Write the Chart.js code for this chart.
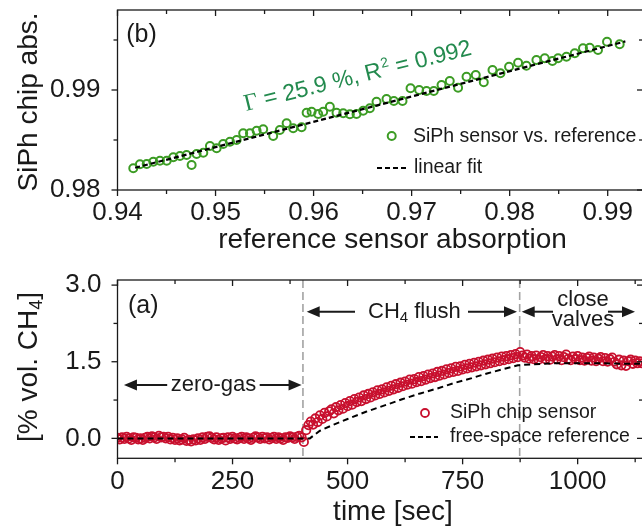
<!DOCTYPE html>
<html>
<head>
<meta charset="utf-8">
<script src="https://cdn.jsdelivr.net/npm/chart.js@4.4.1/dist/chart.umd.min.js"></script>
<style>
  html, body { margin: 0; padding: 0; background: #fff; overflow: hidden; }
  #wrap { position: relative; width: 642px; height: 530px; overflow: hidden; }
  canvas { position: absolute; left: 0; }
  #fitChart { top: 0; }
  #timeChart { top: 260px; }
</style>
</head>
<body>
<div id="wrap">
  <canvas id="fitChart" width="700" height="260"></canvas>
  <canvas id="timeChart" width="700" height="270"></canvas>
</div>
<script>
// ---- (b) chip absorption vs. reference absorption ----
const refAbs = [
  0.94161, 0.94229, 0.94298, 0.94365, 0.94433, 0.94502, 0.94569, 0.94637, 0.94705, 0.94756,
  0.94807, 0.94875, 0.94943, 0.95011, 0.95078, 0.95147, 0.95215, 0.95282, 0.95351, 0.95419,
  0.95486, 0.95588, 0.95656, 0.95725, 0.95792, 0.95878, 0.95929, 0.95980, 0.96047, 0.96098,
  0.96166, 0.96234, 0.96302, 0.96370, 0.96438, 0.96506, 0.96574, 0.96642, 0.96744, 0.96819,
  0.96907, 0.96989, 0.97077, 0.97152, 0.97226, 0.97305, 0.97389, 0.97474, 0.97560, 0.97654,
  0.97736, 0.97825, 0.97906, 0.97994, 0.98086, 0.98171, 0.98273, 0.98358, 0.98436, 0.98494,
  0.98579, 0.98664, 0.98748, 0.98817, 0.98901, 0.98993, 0.99122
];
const chipAbs = [
  0.98217, 0.98257, 0.98260, 0.98283, 0.98293, 0.98293, 0.98327, 0.98340, 0.98350, 0.98250,
  0.98360, 0.98373, 0.98440, 0.98417, 0.98460, 0.98483, 0.98500, 0.98567, 0.98567, 0.98593,
  0.98607, 0.98540, 0.98600, 0.98667, 0.98617, 0.98627, 0.98773, 0.98783, 0.98760, 0.98783,
  0.98833, 0.98773, 0.98767, 0.98757, 0.98760, 0.98793, 0.98817, 0.98883, 0.98910, 0.98890,
  0.98890, 0.99017, 0.99000, 0.98990, 0.98990, 0.99050, 0.99090, 0.99023, 0.99133, 0.99150,
  0.99077, 0.99200, 0.99167, 0.99233, 0.99273, 0.99243, 0.99300, 0.99317, 0.99290, 0.99317,
  0.99333, 0.99367, 0.99417, 0.99423, 0.99400, 0.99483, 0.99457
];
const fitX = [0.9418, 0.9918];
const fitY = [0.98222, 0.99486];

const absXTicks = [0.94, 0.95, 0.96, 0.97, 0.98, 0.99];
const absXMinor = [0.945, 0.955, 0.965, 0.975, 0.985];
const absYTicks = [0.98, 0.99];
const absYMinor = [0.985, 0.995];

// ---- (a) CH4 concentration over time ----
const timeSec = [
  0, 5, 10, 15, 20, 25, 30, 35, 40, 45, 50, 55, 60, 65, 70, 75, 80, 85, 90, 95,
  100, 105, 110, 115, 120, 125, 130, 135, 140, 145, 150, 155, 160, 165, 170, 175, 180, 185, 190, 195,
  200, 205, 210, 215, 220, 225, 230, 235, 240, 245, 250, 255, 260, 265, 270, 275, 280, 285, 290, 295,
  300, 305, 310, 315, 320, 325, 330, 335, 340, 345, 350, 355, 360, 365, 370, 375, 380, 385, 390, 395,
  400, 405, 410, 415, 420, 425, 430, 435, 440, 445, 450, 455, 460, 465, 470, 475, 480, 485, 490, 495,
  500, 505, 510, 515, 520, 525, 530, 535, 540, 545, 550, 555, 560, 565, 570, 575, 580, 585, 590, 595,
  600, 605, 610, 615, 620, 625, 630, 635, 640, 645, 650, 655, 660, 665, 670, 675, 680, 685, 690, 695,
  700, 705, 710, 715, 720, 725, 730, 735, 740, 745, 750, 755, 760, 765, 770, 775, 780, 785, 790, 795,
  800, 805, 810, 815, 820, 825, 830, 835, 840, 845, 850, 855, 860, 865, 870, 875, 880, 885, 890, 895,
  900, 905, 910, 915, 920, 925, 930, 935, 940, 945, 950, 955, 960, 965, 970, 975, 980, 985, 990, 995,
  1000, 1005, 1010, 1015, 1020, 1025, 1030, 1035, 1040, 1045, 1050, 1055, 1060, 1065, 1070, 1075, 1080, 1085, 1090, 1095,
  1100, 1105, 1110, 1115, 1120, 1125, 1130, 1135, 1140
];
const chipConc = [
  0.01, -0.02, 0.02, -0.01, 0.03, 0.00, -0.03, 0.02, 0.01, -0.02, 0.00, -0.03, 0.01, 0.03, 0.00, 0.04, 0.02, -0.01, 0.05, 0.02,
  0.03, 0.00, 0.03, -0.02, 0.01, -0.03, 0.00, -0.04, -0.02, 0.01, -0.05, -0.03, -0.06, -0.02, -0.04, 0.00, -0.03, 0.02, -0.01, 0.03,
  0.04, 0.01, -0.02, 0.02, -0.03, 0.00, 0.01, -0.04, 0.02, -0.01, 0.03, 0.00, -0.02, 0.01, 0.03, -0.01, 0.02, 0.00, -0.03, 0.01,
  0.04, 0.02, -0.01, 0.03, 0.00, 0.02, -0.02, 0.01, 0.03, -0.01, 0.02, 0.00, -0.03, 0.02, 0.01, 0.04, 0.02, -0.01, 0.03, 0.05,
  0.02, -0.07, 0.16, 0.26, 0.33, 0.27, 0.39, 0.32, 0.45, 0.38, 0.50, 0.43, 0.53, 0.57, 0.49, 0.61, 0.55, 0.65, 0.58, 0.69,
  0.63, 0.73, 0.66, 0.77, 0.71, 0.80, 0.73, 0.84, 0.77, 0.87, 0.80, 0.90, 0.84, 0.94, 0.87, 0.96, 0.90, 1.00, 0.93, 1.03,
  0.96, 1.06, 0.99, 1.09, 1.02, 1.11, 1.05, 1.15, 1.07, 1.16, 1.10, 1.20, 1.12, 1.22, 1.15, 1.25, 1.18, 1.27, 1.20, 1.30,
  1.23, 1.32, 1.25, 1.35, 1.28, 1.37, 1.30, 1.40, 1.32, 1.41, 1.35, 1.44, 1.37, 1.46, 1.39, 1.48, 1.41, 1.50, 1.43, 1.52,
  1.45, 1.54, 1.47, 1.56, 1.49, 1.58, 1.51, 1.60, 1.53, 1.61, 1.55, 1.63, 1.57, 1.65, 1.59, 1.69, 1.62, 1.58, 1.64, 1.56,
  1.61, 1.55, 1.62, 1.54, 1.59, 1.63, 1.55, 1.61, 1.54, 1.60, 1.63, 1.55, 1.61, 1.53, 1.59, 1.64, 1.56, 1.53, 1.60, 1.55,
  1.61, 1.53, 1.58, 1.52, 1.57, 1.60, 1.52, 1.58, 1.51, 1.56, 1.59, 1.51, 1.57, 1.50, 1.55, 1.58, 1.50, 1.45, 1.54, 1.43,
  1.52, 1.42, 1.51, 1.54, 1.46, 1.52, 1.47, 1.51, 1.47
];
const refTime = [0, 100, 200, 300, 400, 418, 440, 470, 500, 540, 585, 620, 658, 700, 730, 770, 803, 840, 870, 900, 950, 1000, 1050, 1100, 1140];
const refConc = [0, 0, 0, 0, 0, 0.0, 0.15, 0.27, 0.38, 0.52, 0.66, 0.77, 0.88, 0.99, 1.08, 1.18, 1.27, 1.36, 1.43, 1.45, 1.47, 1.47, 1.47, 1.46, 1.46];
const phaseEdges = [403, 874];

const timeTicks = [0, 250, 500, 750, 1000];
const timeMinor = [125, 375, 625, 875, 1125];
const concTicks = [0.0, 1.5, 3.0];
const concMinor = [0.75, 2.25];

const FONT = "'Liberation Sans', Arial, sans-serif";
const INK = '#1a1a1a';
const GREEN = '#3c9c24';
const GREEN_TEXT = '#238a4e';
const RED = '#c8102e';

function pairs(xs, ys) {
  return xs.map((x, i) => ({ x: x, y: ys[i] }));
}

function line(ctx, x1, y1, x2, y2) {
  ctx.beginPath();
  ctx.moveTo(x1, y1);
  ctx.lineTo(x2, y2);
  ctx.stroke();
}

// horizontal arrow, head at x2
function arrow(ctx, x1, y, x2) {
  const dir = Math.sign(x2 - x1);
  ctx.lineWidth = 2;
  line(ctx, x1, y, x2 - dir * 8, y);
  ctx.beginPath();
  ctx.moveTo(x2, y);
  ctx.lineTo(x2 - dir * 13, y - 5.5);
  ctx.lineTo(x2 - dir * 13, y + 5.5);
  ctx.closePath();
  ctx.fill();
}

// box around the plot with outward ticks bottom/left, inward top/right
function drawFrame(chart, t) {
  const { ctx, chartArea: a } = chart;
  const sx = chart.scales.x, sy = chart.scales.y;
  ctx.save();
  ctx.strokeStyle = INK;
  ctx.lineWidth = 1.3;
  ctx.strokeRect(a.left, a.top, a.right - a.left, a.bottom - a.top);
  const xt = (vals, len) => vals.forEach(v => {
    const px = sx.getPixelForValue(v);
    line(ctx, px, a.bottom, px, a.bottom + len);
    line(ctx, px, a.top, px, a.top + len);
  });
  const yt = (vals, len) => vals.forEach(v => {
    const py = sy.getPixelForValue(v);
    line(ctx, a.left, py, a.left - len, py);
    line(ctx, a.right, py, a.right - len, py);
  });
  xt(t.xMajor, 6); xt(t.xMinor, 4);
  yt(t.yMajor, 6); yt(t.yMinor, 4);
  ctx.restore();
}

// fixed-size axis: the plot box is set by these sizes and the layout padding
function tickScale(min, max, ticks, fmt, pad, size) {
  return {
    type: 'linear', min: min, max: max,
    grid: { display: false, drawTicks: false },
    border: { display: false },
    afterBuildTicks: s => { s.ticks = ticks.map(v => ({ value: v })); },
    afterFit: s => {
      if (s.isHorizontal()) s.height = size; else s.width = size;
      s.paddingTop = 0; s.paddingBottom = 0; s.paddingLeft = 0; s.paddingRight = 0;
    },
    ticks: {
      padding: pad, color: INK, maxRotation: 0,
      font: { family: FONT, size: 26 },
      callback: v => fmt(v)
    }
  };
}

const fitDecor = {
  id: 'fitDecor',
  afterDraw(chart) {
    const ctx = chart.ctx;
    drawFrame(chart, { xMajor: absXTicks, xMinor: absXMinor, yMajor: absYTicks, yMinor: absYMinor });
    ctx.save();
    ctx.fillStyle = INK;
    ctx.strokeStyle = INK;

    // axis titles
    ctx.font = '28px ' + FONT;
    ctx.textAlign = 'center';
    ctx.textBaseline = 'alphabetic';
    ctx.fillText('reference sensor absorption', 392.5, 248);
    ctx.save();
    ctx.translate(37, 102);
    ctx.rotate(-Math.PI / 2);
    ctx.fillText('SiPh chip abs.', 0, 0);
    ctx.restore();

    // panel tag
    ctx.font = '25px ' + FONT;
    ctx.textBaseline = 'middle';
    ctx.fillText('(b)', 141.5, 35);

    // legend
    ctx.textAlign = 'left';
    ctx.font = '19.5px ' + FONT;
    ctx.fillText('SiPh sensor vs. reference', 413, 137);
    ctx.fillText('linear fit', 414, 168);
    ctx.strokeStyle = GREEN;
    ctx.lineWidth = 2;
    ctx.beginPath();
    ctx.arc(391.7, 136, 4, 0, Math.PI * 2);
    ctx.stroke();
    ctx.strokeStyle = '#000';
    ctx.setLineDash([5, 3]);
    ctx.lineWidth = 2;
    line(ctx, 377, 168, 407, 168);
    ctx.setLineDash([]);

    // slope and fit quality, written along the data
    ctx.translate(246, 111);
    ctx.rotate(-14 * Math.PI / 180);
    ctx.fillStyle = GREEN_TEXT;
    ctx.textBaseline = 'alphabetic';
    let x = 0;
    ctx.font = '24px "Liberation Serif", serif';
    ctx.fillText('\u0393', x, 0);
    x += ctx.measureText('\u0393').width;
    ctx.font = '23px ' + FONT;
    const part1 = ' = 25.9 %, R';
    ctx.fillText(part1, x, 0);
    x += ctx.measureText(part1).width;
    ctx.font = '14px ' + FONT;
    ctx.fillText('2', x + 1, -9);
    x += ctx.measureText('2').width + 1;
    ctx.font = '23px ' + FONT;
    ctx.fillText(' = 0.992', x, 0);
    ctx.restore();
  }
};

new Chart(document.getElementById('fitChart'), {
  type: 'scatter',
  data: {
    datasets: [
      {
        label: 'linear fit',
        data: pairs(fitX, fitY),
        showLine: true,
        borderColor: '#000',
        borderWidth: 2.2,
        borderDash: [5, 3],
        pointRadius: 0,
        order: 0
      },
      {
        label: 'SiPh sensor vs. reference',
        data: pairs(refAbs, chipAbs),
        pointStyle: 'circle',
        pointRadius: 4,
        pointBorderWidth: 2,
        pointBorderColor: GREEN,
        pointBackgroundColor: 'rgba(255,255,255,0)',
        order: 1
      }
    ]
  },
  options: {
    responsive: false,
    animation: false,
    events: [],
    layout: { padding: { left: 0, top: 10, right: 57, bottom: 0 } },
    plugins: { legend: { display: false }, tooltip: { enabled: false } },
    scales: {
      x: tickScale(0.94, 0.9936, absXTicks, v => v.toFixed(2), 7, 70),
      y: tickScale(0.98, 0.998, absYTicks, v => v.toFixed(2), 17, 117.5)
    }
  },
  plugins: [fitDecor]
});

const timeDecor = {
  id: 'timeDecor',
  beforeDatasetsDraw(chart) {
    const { ctx, chartArea: a } = chart;
    ctx.save();
    ctx.strokeStyle = '#a3a3a3';
    ctx.lineWidth = 1.6;
    ctx.setLineDash([8, 4]);
    phaseEdges.forEach(t => {
      const px = chart.scales.x.getPixelForValue(t);
      line(ctx, px, a.top, px, a.bottom);
    });
    ctx.restore();
  },
  afterDraw(chart) {
    const ctx = chart.ctx;
    const sx = chart.scales.x;
    drawFrame(chart, { xMajor: timeTicks, xMinor: timeMinor, yMajor: concTicks, yMinor: concMinor });
    ctx.save();
    ctx.fillStyle = INK;
    ctx.strokeStyle = INK;

    // axis titles
    ctx.font = '28px ' + FONT;
    ctx.textAlign = 'center';
    ctx.textBaseline = 'alphabetic';
    ctx.fillText('time [sec]', 393, 260);
    ctx.save();
    ctx.translate(36.5, 107);
    ctx.rotate(-Math.PI / 2);
    const yl1 = '[% vol. CH', yl2 = '4', yl3 = ']';
    const w1 = ctx.measureText(yl1).width, w3 = ctx.measureText(yl3).width;
    ctx.font = '18px ' + FONT;
    const w2 = ctx.measureText(yl2).width;
    let x = -(w1 + w2 + w3) / 2;
    ctx.textAlign = 'left';
    ctx.font = '28px ' + FONT;
    ctx.fillText(yl1, x, 0);
    ctx.font = '18px ' + FONT;
    ctx.fillText(yl2, x + w1, 5);
    ctx.font = '28px ' + FONT;
    ctx.fillText(yl3, x + w1 + w2, 0);
    ctx.restore();

    // panel tag
    ctx.textAlign = 'center';
    ctx.textBaseline = 'middle';
    ctx.font = '25px ' + FONT;
    ctx.fillText('(a)', 143.3, 45.8);

    // phase arrows and labels
    ctx.font = '22px ' + FONT;
    const ya = 125, yb = 51.7;
    arrow(ctx, sx.getPixelForValue(108), ya, sx.getPixelForValue(14));
    ctx.fillText('zero-gas', 213.5, ya);
    arrow(ctx, sx.getPixelForValue(309), ya, sx.getPixelForValue(400));

    arrow(ctx, 355, yb, 306.7);
    ctx.textAlign = 'left';
    ctx.fillText('CH', 368, yb);
    const wCH = ctx.measureText('CH').width;
    ctx.font = '15px ' + FONT;
    ctx.fillText('4', 368 + wCH, yb + 6);
    const w4 = ctx.measureText('4').width;
    ctx.font = '22px ' + FONT;
    ctx.fillText(' flush', 368 + wCH + w4, yb);
    arrow(ctx, 468, yb, 517);

    arrow(ctx, 553, yb, 521.7);
    ctx.textAlign = 'center';
    ctx.fillText('close', 583, 40);
    ctx.fillText('valves', 583, 60);
    arrow(ctx, 608, yb, 635);

    // legend
    ctx.textAlign = 'left';
    ctx.font = '19.5px ' + FONT;
    ctx.fillText('SiPh chip sensor', 450, 153);
    ctx.fillText('free-space reference', 450, 176.7);
    ctx.strokeStyle = RED;
    ctx.lineWidth = 1.8;
    ctx.beginPath();
    ctx.arc(425, 153, 4, 0, Math.PI * 2);
    ctx.stroke();
    ctx.strokeStyle = '#000';
    ctx.lineWidth = 2;
    ctx.setLineDash([5, 3]);
    line(ctx, 410, 177, 438, 177);
    ctx.restore();
  }
};

new Chart(document.getElementById('timeChart'), {
  type: 'scatter',
  data: {
    datasets: [
      {
        label: 'free-space reference',
        data: pairs(refTime, refConc),
        showLine: true,
        borderColor: '#000',
        borderWidth: 2,
        borderDash: [6, 4],
        pointRadius: 0,
        order: 0
      },
      {
        label: 'SiPh chip sensor',
        data: pairs(timeSec, chipConc),
        pointStyle: 'circle',
        pointRadius: 4.2,
        pointBorderWidth: 1.8,
        pointBorderColor: RED,
        pointBackgroundColor: 'rgba(255,255,255,0)',
        order: 1
      }
    ]
  },
  options: {
    responsive: false,
    animation: false,
    events: [],
    layout: { padding: { left: 0, top: 20, right: 57, bottom: 0 } },
    plugins: { legend: { display: false }, tooltip: { enabled: false } },
    scales: {
      x: tickScale(0, 1142, timeTicks, v => String(v), 8, 71.7),
      y: tickScale(-0.39, 3.1, concTicks, v => v.toFixed(1), 16, 117.5)
    }
  },
  plugins: [timeDecor]
});
</script>
</body>
</html>
